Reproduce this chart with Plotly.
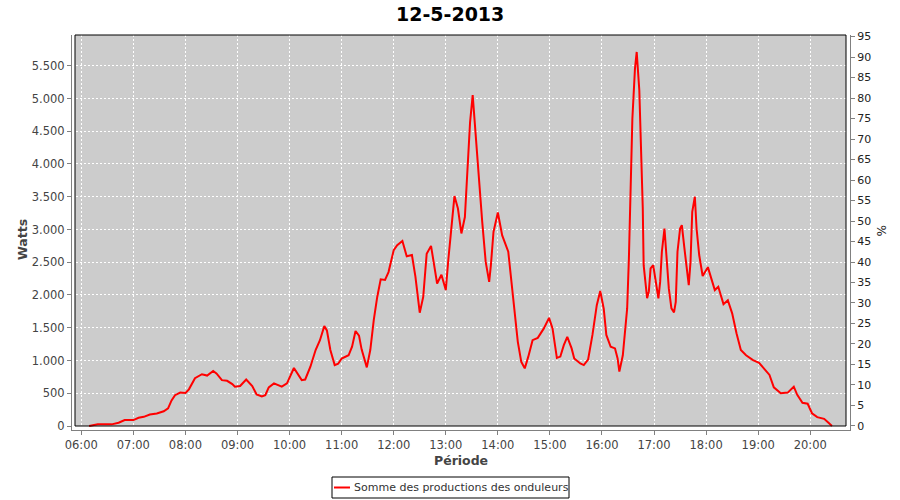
import plotly.graph_objects as go

# ---- data ----
times = ["06:09","06:19","06:35","06:43","06:50","07:00","07:06","07:12","07:19","07:27",
         "07:35","07:40","07:44","07:48","07:54","08:00","08:04","08:07","08:11","08:19",
         "08:25","08:32","08:36","08:42","08:48","08:54","08:57","09:03","09:10","09:17",
         "09:22","09:28","09:32","09:36","09:42","09:51","09:57","10:05","10:14","10:18",
         "10:24","10:30","10:35","10:40","10:43","10:47","10:52","10:56","11:00","11:08",
         "11:12","11:16","11:20","11:23","11:29","11:33","11:37","11:41","11:45","11:50",
         "11:54","12:00","12:04","12:10","12:15","12:21","12:25","12:30","12:34","12:38",
         "12:43","12:46","12:50","12:55","13:00","13:03","13:07","13:10","13:14","13:18",
         "13:22","13:25","13:28","13:31","13:34","13:38","13:42","13:46","13:50","13:52",
         "13:55","14:00","14:05","14:12","14:15","14:19","14:23","14:27","14:31","14:35",
         "14:40","14:46","14:53","14:59","15:03","15:08","15:12","15:16","15:20","15:25",
         "15:28","15:35","15:39","15:44","15:49","15:54","15:58","16:02","16:05","16:10",
         "16:15","16:18","16:20","16:24","16:26","16:29","16:31","16:33","16:35","16:38",
         "16:40","16:43","16:45","16:47","16:48","16:52","16:54","16:56","16:59","17:02",
         "17:05","17:07","17:09","17:12","17:15","17:17","17:20","17:23","17:25","17:27",
         "17:30","17:32","17:35","17:38","17:40","17:42","17:44","17:47","17:49","17:52",
         "17:56","18:02","18:05","18:10","18:14","18:20","18:25","18:30","18:35","18:40",
         "18:46","18:54","19:01","19:07","19:13","19:18","19:26","19:34","19:41","19:45",
         "19:51","19:57","20:02","20:08","20:16","20:21","20:25"]
watts = [0, 25, 25, 50, 90, 90, 125, 140, 175, 190,
         225, 270, 390, 470, 510, 505, 560, 640, 730, 790,
         770, 840, 800, 700, 690, 640, 600, 610, 710, 610,
         480, 450, 470, 590, 650, 600, 650, 885, 700, 710,
         905, 1160, 1310, 1525, 1460, 1160, 930, 950, 1030, 1080,
         1210, 1450, 1380, 1170, 895, 1160, 1615, 1970, 2240, 2230,
         2350, 2685, 2760, 2825, 2590, 2610, 2280, 1730, 1970, 2630,
         2750, 2505, 2175, 2310, 2075, 2550, 3150, 3510, 3320, 2940,
         3190, 3930, 4640, 5050, 4490, 3725, 3115, 2505, 2200, 2460,
         2965, 3260, 2910, 2660, 2300, 1745, 1285, 980, 880, 1055,
         1310, 1345, 1490, 1650, 1490, 1040, 1060, 1235, 1360, 1185,
         1030, 955, 930, 1015, 1390, 1845, 2060, 1790, 1390, 1210,
         1185, 1030, 830, 1080, 1390, 1795, 2555, 3625, 4690, 5455,
         5710, 5125, 4235, 3320, 2455, 1950, 2055, 2405, 2455, 2200,
         1950, 2200, 2660, 3015, 2505, 2100, 1795, 1735, 1895, 2660,
         3015, 3065, 2710, 2405, 2150, 2505, 3270, 3500, 3015, 2610,
         2290, 2425, 2300, 2075, 2125, 1860, 1920, 1720, 1415, 1160,
         1080, 1005, 965, 880, 780, 590, 500, 510, 600, 475,
         355, 340, 195, 135, 110, 50, 0]

day = "2013-05-12"
title_text = "12-5-2013"
series_name = "Somme des productions des onduleurs"
y_title = "Watts"
y2_title = "%"
x_title = "Période"

xs = [f"{day} {t}" for t in times]

# ---- geometry (pixels) ----
W, H = 900, 500
L, R, T, B = 72, 850, 35, 430          # plotly plot area (axis lines)
IL, IR, IT, IB = 75, 846, 35, 426      # inner grey plot area

def px(xp):
    return (xp - L) / (R - L)

def py(yp):
    return (B - yp) / (B - T)

GRID = dict(showgrid=True, gridcolor="white", gridwidth=1, griddash="2px,2px")
TICKFONT = dict(family="DejaVu Sans", size=11.5, color="#444444")

fig = go.Figure()
fig.add_trace(go.Scatter(x=xs, y=watts, mode="lines", name=series_name,
                         line=dict(color="#FF0000", width=2), showlegend=False))
fig.add_trace(go.Scatter(x=[xs[0]], y=[0], yaxis="y2", mode="lines",
                         line=dict(width=0), showlegend=False, hoverinfo="skip"))

fig.update_layout(
    width=W, height=H,
    margin=dict(l=L, r=W - R, t=T, b=H - B),
    paper_bgcolor="white", plot_bgcolor="white",
    separators=",.",
    showlegend=False,
    xaxis=dict(type="date", range=[f"{day} 05:49:17", f"{day} 20:45:47"],
               tick0=f"{day} 06:00", dtick=3600000, tickformat="%H:%M",
               ticks="outside", ticklen=4, tickcolor="#808080",
               showline=True, linecolor="#808080", linewidth=1,
               tickfont=TICKFONT, zeroline=False, **GRID),
    yaxis=dict(range=[-61, 5969], tick0=0, dtick=500, tickformat=",d",
               ticks="outside", ticklen=4, tickcolor="#808080",
               showline=True, linecolor="#808080", linewidth=1,
               tickfont=TICKFONT, zeroline=False, **GRID),
    yaxis2=dict(overlaying="y", side="right", range=[-0.98, 95.37], tick0=0, dtick=5,
                ticks="outside", ticklen=4, tickcolor="#808080",
                showline=True, linecolor="#808080", linewidth=1,
                tickfont=dict(family="DejaVu Sans", size=11, color="#222222"),
                showgrid=False, zeroline=False),
    shapes=[
        dict(type="rect", xref="paper", yref="paper", layer="below",
             x0=px(IL), x1=px(IR), y0=py(IB), y1=py(IT),
             fillcolor="#CCCCCC", line=dict(width=0)),
        dict(type="rect", xref="paper", yref="paper", layer="above",
             x0=px(IL), x1=px(IR), y0=py(IB), y1=py(IT),
             fillcolor="rgba(0,0,0,0)", line=dict(color="black", width=1)),
        # legend box
        dict(type="rect", xref="paper", yref="paper", layer="above",
             x0=px(332), x1=px(569), y0=py(498), y1=py(477),
             fillcolor="white", line=dict(color="black", width=1)),
        dict(type="line", xref="paper", yref="paper", layer="above",
             x0=px(334), x1=px(350), y0=py(487.5), y1=py(487.5),
             line=dict(color="#FF0000", width=2)),
    ],
    annotations=[
        dict(text=f"<b>{title_text}</b>", xref="paper", yref="paper",
             x=px(450), y=py(14), xanchor="center", yanchor="middle", showarrow=False,
             font=dict(family="DejaVu Sans", size=19, color="black")),
        dict(text=f"<b>{y_title}</b>", xref="paper", yref="paper",
             x=px(22), y=py(240), xanchor="center", yanchor="middle", showarrow=False,
             textangle=-90, font=dict(family="DejaVu Sans", size=12.5, color="#444444")),
        dict(text=y2_title, xref="paper", yref="paper",
             x=px(881), y=py(230), xanchor="center", yanchor="middle", showarrow=False,
             textangle=90, font=dict(family="DejaVu Sans", size=12, color="#222222")),
        dict(text=f"<b>{x_title}</b>", xref="paper", yref="paper",
             x=px(460.5), y=py(460), xanchor="center", yanchor="middle", showarrow=False,
             font=dict(family="DejaVu Sans", size=12.5, color="#444444")),
        dict(text=series_name, xref="paper", yref="paper",
             x=px(352), y=py(487.5), xanchor="left", yanchor="middle", showarrow=False,
             font=dict(family="DejaVu Sans", size=11, color="#333333")),
    ],
)

fig.write_html("out.html", config={"displayModeBar": False},
               post_script="document.body.style.margin='0';document.body.style.padding='0';")
